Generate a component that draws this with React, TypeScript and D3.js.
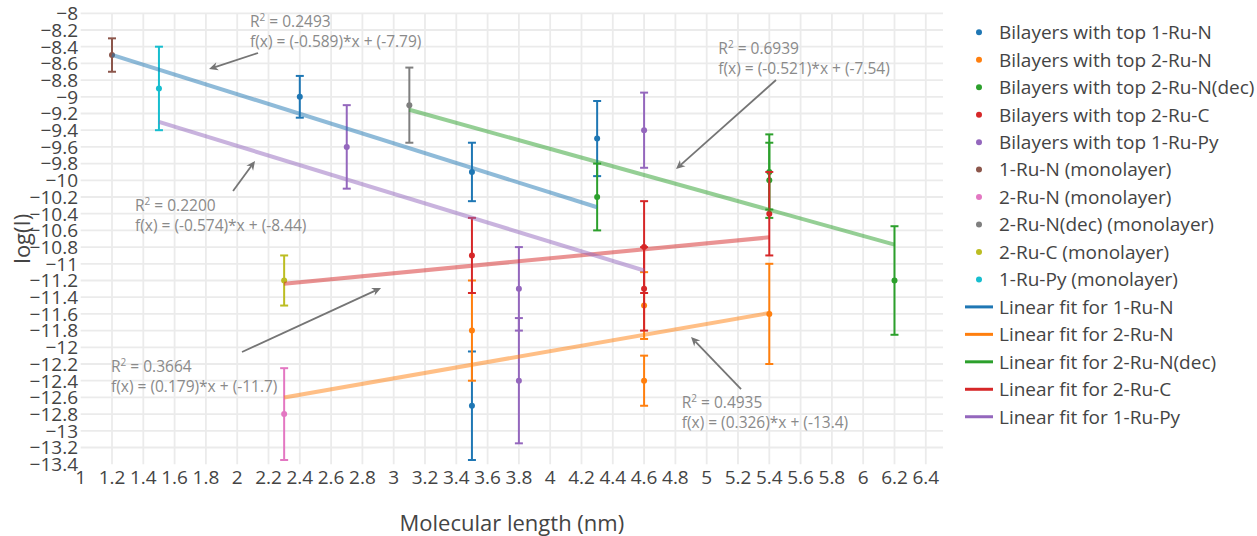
import React from "react";
import * as d3 from "d3";

const W = 1257;
const H = 536;
const FONT = "'Open Sans', sans-serif";

// ---------- data ----------
const seriesNames = [
  "Bilayers with top 1-Ru-N",
  "Bilayers with top 2-Ru-N",
  "Bilayers with top 2-Ru-N(dec)",
  "Bilayers with top 2-Ru-C",
  "Bilayers with top 1-Ru-Py",
  "1-Ru-N (monolayer)",
  "2-Ru-N (monolayer)",
  "2-Ru-N(dec) (monolayer)",
  "2-Ru-C (monolayer)",
  "1-Ru-Py (monolayer)",
];
const seriesColors = [
  "#1f77b4", "#ff7f0e", "#2ca02c", "#d62728", "#9467bd",
  "#8c564b", "#e377c2", "#7f7f7f", "#bcbd22", "#17becf",
];

const bi1RuN_x = [2.4, 3.5, 4.3, 3.5];
const bi1RuN_y = [-9.0, -9.9, -9.5, -12.7];
const bi1RuN_e = [0.25, 0.35, 0.45, 0.65];

const bi2RuN_x = [3.5, 4.6, 4.6, 5.4];
const bi2RuN_y = [-11.8, -11.5, -12.4, -11.6];
const bi2RuN_e = [0.6, 0.4, 0.3, 0.6];

const bi2RuNdec_x = [4.3, 5.4, 5.4, 6.2];
const bi2RuNdec_y = [-10.2, -9.9, -10.0, -11.2];
const bi2RuNdec_e = [0.4, 0.45, 0.45, 0.65];

const bi2RuC_x = [3.5, 4.6, 4.6, 5.4];
const bi2RuC_y = [-10.9, -10.8, -11.3, -10.4];
const bi2RuC_e = [0.45, 0.55, 0.5, 0.5];

const bi1RuPy_x = [2.7, 3.8, 3.8, 4.6];
const bi1RuPy_y = [-9.6, -11.3, -12.4, -9.4];
const bi1RuPy_e = [0.5, 0.5, 0.75, 0.45];

const mono1RuN_x = [1.2];
const mono1RuN_y = [-8.5];
const mono1RuN_e = [0.2];

const mono2RuN_x = [2.3];
const mono2RuN_y = [-12.8];
const mono2RuN_e = [0.55];

const mono2RuNdec_x = [3.1];
const mono2RuNdec_y = [-9.1];
const mono2RuNdec_e = [0.45];

const mono2RuC_x = [2.3];
const mono2RuC_y = [-11.2];
const mono2RuC_e = [0.3];

const mono1RuPy_x = [1.5];
const mono1RuPy_y = [-8.9];
const mono1RuPy_e = [0.5];

const seriesX = [bi1RuN_x, bi2RuN_x, bi2RuNdec_x, bi2RuC_x, bi1RuPy_x, mono1RuN_x, mono2RuN_x, mono2RuNdec_x, mono2RuC_x, mono1RuPy_x];
const seriesY = [bi1RuN_y, bi2RuN_y, bi2RuNdec_y, bi2RuC_y, bi1RuPy_y, mono1RuN_y, mono2RuN_y, mono2RuNdec_y, mono2RuC_y, mono1RuPy_y];
const seriesE = [bi1RuN_e, bi2RuN_e, bi2RuNdec_e, bi2RuC_e, bi1RuPy_e, mono1RuN_e, mono2RuN_e, mono2RuNdec_e, mono2RuC_e, mono1RuPy_e];

const fitNames = [
  "Linear fit for 1-Ru-N",
  "Linear fit for 2-Ru-N",
  "Linear fit for 2-Ru-N(dec)",
  "Linear fit for 2-Ru-C",
  "Linear fit for 1-Ru-Py",
];
const fitColors = ["#1f77b4", "#ff7f0e", "#2ca02c", "#d62728", "#9467bd"];
const fitSlopes = [-0.589, 0.326, -0.521, 0.179, -0.574];
const fitIntercepts = [-7.79, -13.35, -7.54, -11.65, -8.44];
const fitXStart = [1.2, 2.3, 3.1, 2.3, 1.5];
const fitXEnd = [4.3, 5.4, 6.2, 5.4, 4.6];
const fitR2 = ["0.2493", "0.4935", "0.6939", "0.3664", "0.2200"];
const fitFormula = [
  "f(x) = (-0.589)*x + (-7.79)",
  "f(x) = (0.326)*x + (-13.4)",
  "f(x) = (-0.521)*x + (-7.54)",
  "f(x) = (0.179)*x + (-11.7)",
  "f(x) = (-0.574)*x + (-8.44)",
];
// arrow head positions (data coordinates)
const annHeadX = [1.82, 4.9, 4.804, 2.919, 2.114];
const annHeadY = [-8.667, -11.877, -9.865, -11.29, -9.769];

const xTicks = d3.range(0, 28).map((i) => Math.round((1 + i * 0.2) * 10) / 10);
const yTicks = d3.range(0, 28).map((i) => Math.round((-8 - i * 0.2) * 10) / 10);

// ---------- layout (pixels) ----------
const annTail = [[49, -16], [50, 52], [100, -89], [-139, 64], [-22, 30]];
const annText = [[41, -42.3], [-9.3, 71.3], [42.3, -115], [-270, 83.7], [-120, 49.7]];

const fmt = (v: number) => {
  const s = Math.abs(v).toFixed(1).replace(/\.0$/, "");
  return (v < 0 ? "\u2212" : "") + s;
};

export default function App() {
  const x = d3.scaleLinear().domain([1, 6.51]).range([80.7, 943]);
  const y = d3.scaleLinear().domain([-8, -13.4]).range([13.3, 464.2]);
  const [x0, x1] = x.range();
  const [y0, y1] = y.range();

  const line = d3.line<[number, number]>().x((d) => x(d[0])).y((d) => y(d[1]));

  const legendRowY = (i: number) => 32.3 + i * 27.46;

  return (
    <div style={{ position: "absolute", left: 0, top: 0 }}>
      <svg width={W} height={H} style={{ display: "block", background: "#fff" }} fontFamily={FONT}>
        {/* grid */}
        <g stroke="#ebebeb" strokeWidth={1.8}>
          {xTicks.filter((t) => t > 1).map((t) => (
            <line key={"gx" + t} x1={x(t)} x2={x(t)} y1={y0} y2={y1} />
          ))}
          {yTicks.filter((t) => t > -13.4).map((t) => (
            <line key={"gy" + t} x1={x0} x2={x1} y1={y(t)} y2={y(t)} />
          ))}
        </g>

        {/* data with error bars */}
        {seriesX.map((xs, si) => (
          <g key={"s" + si} stroke={seriesColors[si]} fill={seriesColors[si]}>
            {xs.map((xv, i) => {
              const yv = seriesY[si][i];
              const e = seriesE[si][i];
              const cx = x(xv);
              const yt = y(yv + e);
              const yb = y(yv - e);
              return (
                <g key={i} strokeWidth={2}>
                  <line x1={cx} x2={cx} y1={yt} y2={yb} />
                  <line x1={cx - 4} x2={cx + 4} y1={yt} y2={yt} />
                  <line x1={cx - 4} x2={cx + 4} y1={yb} y2={yb} />
                </g>
              );
            })}
            {xs.map((xv, i) => (
              <circle key={"c" + i} cx={x(xv)} cy={y(seriesY[si][i])} r={3} stroke="none" />
            ))}
          </g>
        ))}

        {/* fit lines */}
        {fitNames.map((n, i) => {
          const pts: [number, number][] = [fitXStart[i], fitXEnd[i]].map((xv) => [xv, fitSlopes[i] * xv + fitIntercepts[i]]);
          return (
            <path key={n} d={line(pts) || ""} stroke={fitColors[i]} strokeOpacity={0.5} strokeWidth={4} fill="none" />
          );
        })}

        {/* annotations */}
        {fitNames.map((n, i) => {
          const hx = x(annHeadX[i]);
          const hy = y(annHeadY[i]);
          const tx = hx + annTail[i][0];
          const ty = hy + annTail[i][1];
          const len = Math.hypot(hx - tx, hy - ty);
          const ux = (hx - tx) / len;
          const uy = (hy - ty) / len;
          const nx = -uy;
          const ny = ux;
          const L = 9;
          const Wd = 4.2;
          const bx = hx - ux * L;
          const by = hy - uy * L;
          const notchX = hx - ux * L * 0.7;
          const notchY = hy - uy * L * 0.7;
          const head = `M${hx},${hy}L${bx + nx * Wd},${by + ny * Wd}L${notchX},${notchY}L${bx - nx * Wd},${by - ny * Wd}Z`;
          const lx = hx + annText[i][0];
          const ly = hy + annText[i][1];
          return (
            <g key={"a" + i}>
              <line x1={tx} y1={ty} x2={notchX} y2={notchY} stroke="#757575" strokeWidth={1.8} />
              <path d={head} fill="#757575" />
              <text x={lx} y={ly} fontSize={15.5} fill="#8a8a8a">
                R<tspan fontSize={10} dy={-6}>2</tspan>
                <tspan dy={6}> = {fitR2[i]}</tspan>
              </text>
              <text x={lx} y={ly + 20} fontSize={15.5} fill="#8a8a8a">{fitFormula[i]}</text>
            </g>
          );
        })}

        {/* tick labels */}
        <g fontSize={19} fill="#444">
          {yTicks.map((t) => (
            <text key={"ty" + t} x={78} y={y(t)} dy="0.36em" textAnchor="end">{fmt(t)}</text>
          ))}
          {xTicks.map((t) => (
            <text key={"tx" + t} x={x(t)} y={484} textAnchor="middle">{fmt(t)}</text>
          ))}
        </g>

        {/* axis titles */}
        <text x={(x0 + x1) / 2} y={531} textAnchor="middle" fontSize={22} fill="#444">Molecular length (nm)</text>
        <text transform={`translate(30,${(y0 + y1) / 2}) rotate(-90)`} textAnchor="middle" fontSize={22} fill="#444">log(I)</text>

        {/* legend */}
        <g fontSize={19} fill="#444">
          {seriesNames.map((n, i) => (
            <g key={"l" + n}>
              <circle cx={979} cy={legendRowY(i)} r={3} fill={seriesColors[i]} />
              <text x={999} y={legendRowY(i)} dy="0.36em" fill="#444">{n}</text>
            </g>
          ))}
          {fitNames.map((n, i) => {
            const ry = legendRowY(i + seriesNames.length);
            return (
              <g key={"lf" + n}>
                <line x1={965} x2={993} y1={ry} y2={ry} stroke={fitColors[i]} strokeWidth={3} />
                <text x={999} y={ry} dy="0.36em" fill="#444">{n}</text>
              </g>
            );
          })}
        </g>
      </svg>
    </div>
  );
}
